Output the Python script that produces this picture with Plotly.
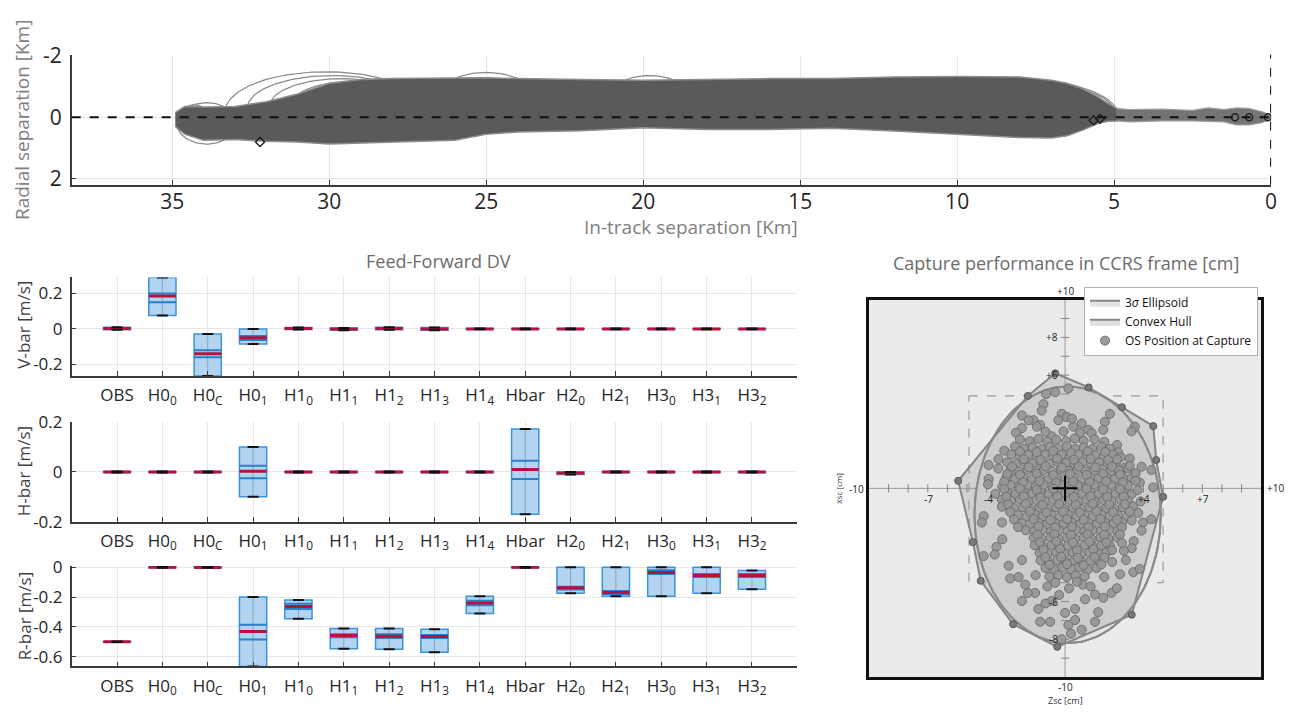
import numpy as np
import plotly.graph_objects as go

W, H = 1301, 717
FONT = "Open Sans"

# ---------------- data: trajectory panel (km) ----------------
band_x   = [34.9, 34.6, 34.0, 33.0, 32.0, 31.0, 30.0, 29.0, 28.0, 27.0, 26.0, 25.0, 24.0, 22.0, 20.0, 18.0, 16.0, 14.0, 12.0, 10.0, 9.0, 8.0, 7.0, 6.5, 6.0, 5.5, 5.2, 4.9]
band_top = [-0.15, -0.35, -0.33, -0.35, -0.5, -0.75, -1.1, -1.22, -1.25, -1.25, -1.27, -1.28, -1.25, -1.22, -1.2, -1.22, -1.25, -1.25, -1.3, -1.32, -1.3, -1.3, -1.2, -1.1, -0.92, -0.65, -0.45, -0.28]
band_bot = [0.3, 0.55, 0.75, 0.72, 0.78, 0.8, 0.87, 0.85, 0.83, 0.78, 0.75, 0.55, 0.48, 0.44, 0.34, 0.4, 0.4, 0.36, 0.45, 0.55, 0.6, 0.66, 0.67, 0.6, 0.42, 0.2, 0.13, 0.12]
tail_x   = [4.9, 4.5, 3.5, 2.5, 2.0, 1.5, 1.1, 0.7, 0.3, 0.0]
tail_top = [-0.28, -0.25, -0.26, -0.22, -0.3, -0.25, -0.3, -0.28, -0.18, -0.05]
tail_bot = [0.12, 0.15, 0.12, 0.12, 0.13, 0.15, 0.25, 0.25, 0.18, 0.05]
ell_cx   = [34.3, 33.9, 30.1, 29.9, 29.6, 29.3, 25.0, 19.8, 8.6, 7.9]
ell_cy   = [0.05, 0.2, -0.2, -0.3, -0.35, -0.4, -0.3, -0.35, -0.1, -0.15]
ell_ax   = [0.5, 0.95, 3.2, 2.7, 2.3, 1.9, 1.8, 1.5, 3.7, 2.9]
ell_ay   = [0.45, 0.67, 1.27, 1.05, 0.9, 0.75, 1.15, 1.0, 1.2, 1.0]
ell_full = [1, 1, 0, 0, 0, 0, 0, 0, 0, 0]
mk_x     = [32.2, 5.65, 5.45, 1.15, 0.7, 0.1]
mk_y     = [0.8, 0.1, 0.05, 0.0, 0.0, 0.0]
top_xticks = [0, 5, 10, 15, 20, 25, 30, 35]
top_yticks = [-2, 0, 2]

# ---------------- data: feed-forward DV box panels (m/s) ----------------
categories = ["OBS", "H0<sub>0</sub>", "H0<sub>C</sub>", "H0<sub>1</sub>", "H1<sub>0</sub>",
              "H1<sub>1</sub>", "H1<sub>2</sub>", "H1<sub>3</sub>", "H1<sub>4</sub>", "Hbar",
              "H2<sub>0</sub>", "H2<sub>1</sub>", "H3<sub>0</sub>", "H3<sub>1</sub>", "H3<sub>2</sub>"]

v_lo  = [-0.005, 0.075, -0.265, -0.085, -0.003, -0.008, -0.005, -0.007, -0.002, -0.002, -0.002, -0.002, -0.002, -0.002, -0.002]
v_hi  = [0.01, 0.29, -0.028, 0.0, 0.008, 0.005, 0.01, 0.008, 0.002, 0.002, 0.002, 0.002, 0.002, 0.002, 0.002]
v_med = [0.003, 0.185, -0.14, -0.05, 0.003, 0.0, 0.002, 0.0, 0.0, 0.0, 0.0, 0.0, 0.0, 0.0, 0.0]
v_blo = [None, 0.15, -0.16, -0.062, None, None, None, None, None, None, None, None, None, None, None]
v_bhi = [None, 0.2, -0.12, -0.04, None, None, None, None, None, None, None, None, None, None, None]

h_lo  = [-0.002, -0.002, -0.002, -0.1, -0.002, -0.002, -0.002, -0.002, -0.002, -0.17, -0.01, -0.002, -0.002, -0.002, -0.002]
h_hi  = [0.002, 0.002, 0.002, 0.1, 0.002, 0.002, 0.002, 0.002, 0.002, 0.173, 0.0, 0.002, 0.002, 0.002, 0.002]
h_med = [0.0, 0.0, 0.0, 0.003, 0.0, 0.0, 0.0, 0.0, 0.0, 0.01, -0.004, 0.0, 0.0, 0.0, 0.0]
h_blo = [None, None, None, -0.025, None, None, None, None, None, -0.028, None, None, None, None, None]
h_bhi = [None, None, None, 0.025, None, None, None, None, None, 0.045, None, None, None, None, None]

r_lo  = [-0.502, -0.003, -0.003, -0.665, -0.345, -0.546, -0.55, -0.57, -0.31, -0.003, -0.175, -0.195, -0.195, -0.175, -0.148]
r_hi  = [-0.498, 0.003, 0.001, -0.2, -0.22, -0.41, -0.41, -0.415, -0.195, 0.003, 0.0, 0.0, 0.0, 0.0, -0.022]
r_med = [-0.5, 0.0, -0.002, -0.43, -0.263, -0.458, -0.463, -0.465, -0.24, 0.0, -0.138, -0.17, -0.035, -0.056, -0.056]
r_blo = [None, None, None, -0.485, -0.28, -0.47, -0.475, -0.475, -0.255, None, -0.15, -0.18, -0.045, -0.065, -0.065]
r_bhi = [None, None, None, -0.385, -0.245, -0.45, -0.45, -0.455, -0.225, None, -0.13, -0.16, -0.02, -0.045, -0.045]

# ---------------- data: capture performance (cm) ----------------
ellipse_c = (0.13, -1.4)
ellipse_r = (4.75, 6.8)
hull_x = [-0.5, 1.2, 2.9, 4.5, 4.65, 5.0, 3.4, -0.4, -2.65, -4.3, -4.7, -5.45, -1.9, -0.5]
hull_y = [6.1, 5.35, 4.3, 3.3, 1.5, -0.45, -6.7, -8.4, -7.2, -4.9, -2.85, 0.4, 4.9, 6.1]
sq_x = [-4.9, 5.0, 5.0, -4.9, -4.9]
sq_y = [4.9, 4.9, -5.0, -5.0, 4.9]
cap_ticks = [-9, -8, -7, -6, -5, -4, -3, -2, -1, 1, 2, 3, 4, 5, 6, 7, 8, 9]
os_points = [
    (-0.5, 5.1), (-0.97, 5.0), (0.17, 5.3), (-1.1, 4.46), (-1.19, 4.12), (-2.2, 3.86), (-1.61, 3.61),
    (-1.27, 3.36), (-0.17, 3.95), (0.08, 3.78), (-0.34, 3.61), (0.85, 3.44), (1.19, 3.1), (2.29, 3.95),
    (2.03, 3.53), (3.56, 3.27), (3.39, 3.02), (0.42, 3.27), (0.76, 2.93), (-0.08, 3.02), (-0.68, 2.76),
    (-1.86, 3.61), (-1.44, 3.27), (-2.2, 3.19), (1.95, 3.1), (1.36, 2.93), (-1.0, 3.0), (0.35, 3.7), (-2.5, 2.95),
    (-2.3, 2.6), (-1.8, 2.5), (-1.35, 2.62), (-0.9, 2.48), (-0.45, 2.58), (0.05, 2.5), (0.5, 2.64), (0.95, 2.52),
    (1.5, 2.6), (2.0, 2.47), (2.65, 2.3),
    (-3.1, 2.0), (-2.55, 2.22), (-2.1, 2.1), (-1.65, 2.18), (-1.2, 2.08), (-0.78, 2.2), (-0.35, 2.12), (0.1, 2.22),
    (0.52, 2.1), (0.95, 2.17), (1.4, 2.08), (1.85, 2.2), (2.3, 2.1), (2.7, 1.92),
    (-3.4, 1.55), (-2.75, 1.8), (-2.3, 1.7), (-1.88, 1.78), (-1.45, 1.68), (-1.02, 1.8), (-0.6, 1.72), (-0.18, 1.78),
    (0.25, 1.7), (0.68, 1.8), (1.1, 1.68), (1.55, 1.76), (1.98, 1.7), (2.42, 1.8), (2.85, 1.65), (3.3, 1.58),
    (-3.9, 1.24), (-2.95, 1.38), (-2.5, 1.3), (-2.08, 1.4), (-1.65, 1.32), (-1.22, 1.38), (-0.8, 1.3), (-0.38, 1.4),
    (0.05, 1.34), (0.48, 1.3), (0.9, 1.4), (1.32, 1.32), (1.75, 1.38), (2.18, 1.3), (2.6, 1.36), (3.05, 1.1), (3.9, 1.15),
    (-3.4, 1.05), (-2.8, 0.95), (-2.35, 0.9), (-1.92, 1.0), (-1.5, 0.92), (-1.08, 0.98), (-0.65, 0.9), (-0.22, 1.0),
    (0.2, 0.92), (0.62, 0.98), (1.05, 0.9), (1.48, 0.96), (1.9, 1.0), (2.32, 0.9), (2.75, 0.95), (3.2, 1.07),
    (3.56, 0.73), (4.4, 0.98),
    (-3.9, 0.5), (-3.0, 0.55), (-2.55, 0.5), (-2.12, 0.58), (-1.7, 0.5), (-1.28, 0.56), (-0.85, 0.48), (-0.42, 0.58),
    (0.0, 0.5), (0.42, 0.55), (0.85, 0.48), (1.28, 0.58), (1.7, 0.5), (2.12, 0.56), (2.55, 0.5), (2.98, 0.58),
    (3.4, 0.56), (3.81, 0.31),
    (-3.93, 0.22), (-3.2, 0.1), (-2.78, 0.18), (-2.35, 0.1), (-1.92, 0.16), (-1.5, 0.08), (-1.08, 0.18), (-0.65, 0.12),
    (-0.22, 0.2), (0.22, 0.1), (0.65, 0.16), (1.08, 0.1), (1.5, 0.2), (1.92, 0.12), (2.35, 0.18), (2.78, 0.1),
    (3.2, 0.15), (4.49, 0.05),
    (-3.56, -0.29), (-2.95, -0.22), (-2.52, -0.3), (-2.1, -0.2), (-1.68, -0.28), (-1.25, -0.22), (-0.82, -0.3),
    (-0.4, -0.2), (0.02, -0.26), (0.45, -0.2), (0.88, -0.3), (1.3, -0.22), (1.72, -0.28), (2.15, -0.2), (2.58, -0.3),
    (3.0, -0.22), (3.4, -0.3),
    (-3.22, -0.6), (-2.75, -0.66), (-2.3, -0.6), (-1.88, -0.7), (-1.45, -0.62), (-1.02, -0.68), (-0.6, -0.6),
    (-0.18, -0.7), (0.25, -0.62), (0.68, -0.68), (1.1, -0.6), (1.52, -0.7), (1.95, -0.62), (2.38, -0.68), (2.8, -0.6),
    (3.22, -0.66), (3.85, -0.7),
    (-3.22, -0.97), (-2.6, -1.05), (-2.15, -1.0), (-1.72, -1.1), (-1.3, -1.02), (-0.88, -1.08), (-0.45, -1.0),
    (-0.02, -1.1), (0.4, -1.02), (0.82, -1.08), (1.25, -1.0), (1.68, -1.1), (2.1, -1.04), (2.52, -1.08), (2.95, -1.0),
    (3.47, -0.97),
    (-4.15, -1.47), (-2.4, -1.42), (-1.98, -1.5), (-1.55, -1.4), (-1.12, -1.48), (-0.7, -1.42), (-0.28, -1.5),
    (0.15, -1.4), (0.58, -1.48), (1.0, -1.42), (1.42, -1.5), (1.85, -1.4), (2.28, -1.46), (2.7, -1.42), (3.15, -1.48),
    (3.73, -1.3),
    (-4.24, -1.81), (-3.22, -1.81), (-2.2, -1.85), (-1.78, -1.9), (-1.35, -1.82), (-0.92, -1.9), (-0.5, -1.84),
    (-0.08, -1.9), (0.35, -1.82), (0.78, -1.88), (1.2, -1.82), (1.62, -1.9), (2.05, -1.84), (2.48, -1.88), (2.9, -1.82),
    (3.98, -1.81), (4.4, -1.64),
    (-2.0, -2.22), (-1.58, -2.28), (-1.15, -2.2), (-0.72, -2.3), (-0.3, -2.22), (0.12, -2.28), (0.55, -2.2),
    (0.98, -2.3), (1.4, -2.22), (1.82, -2.28), (2.25, -2.2), (2.68, -2.26), (3.9, -2.24),
    (-3.2, -2.7), (-1.6, -2.62), (-1.18, -2.68), (-0.75, -2.6), (-0.32, -2.7), (0.1, -2.62), (0.52, -2.68),
    (0.95, -2.6), (1.38, -2.7), (1.8, -2.62), (2.22, -2.68), (2.65, -2.6), (3.5, -2.8),
    (-3.5, -3.1), (-1.55, -3.02), (-1.12, -3.1), (-0.7, -3.0), (-0.28, -3.08), (0.15, -3.02), (0.58, -3.1),
    (1.0, -3.0), (1.42, -3.08), (1.85, -3.02), (2.3, -3.06), (3.4, -3.17),
    (-4.15, -3.59), (-3.59, -3.51), (-1.3, -3.42), (-0.88, -3.5), (-0.45, -3.4), (-0.02, -3.48), (0.4, -3.42),
    (0.82, -3.5), (1.25, -3.4), (1.68, -3.48), (2.1, -3.42), (3.0, -3.3),
    (-2.2, -3.8), (-1.25, -3.82), (-0.82, -3.9), (-0.4, -3.8), (0.02, -3.88), (0.45, -3.8), (0.88, -3.9),
    (1.3, -3.82), (1.72, -3.86), (2.4, -3.9), (3.1, -3.8),
    (-2.88, -4.1), (-1.0, -4.22), (-0.55, -4.3), (-0.12, -4.2), (0.3, -4.28), (0.72, -4.2), (1.15, -4.3),
    (1.6, -4.22), (3.48, -4.44), (3.81, -4.27),
    (-2.8, -4.78), (-2.37, -4.7), (-1.5, -4.6), (-0.8, -4.68), (-0.35, -4.6), (0.1, -4.7), (0.55, -4.62),
    (1.0, -4.66), (2.0, -4.7), (2.8, -4.55),
    (-2.03, -5.1), (-1.53, -5.54), (-2.2, -5.97), (-1.36, -6.39), (-1.27, -7.07), (-0.76, -7.07), (-0.68, -5.97),
    (-0.17, -8.0), (0.17, -7.24), (0.51, -6.98), (0.85, -7.49), (0.51, -6.39), (1.02, -5.88), (1.53, -5.63),
    (1.53, -7.07), (1.69, -6.56), (1.95, -5.8), (2.37, -5.54), (2.64, -5.29), (-0.9, -5.2), (0.2, -5.3),
    (-0.3, -5.65), (0.9, -5.1), (-1.0, -6.1), (0.0, -6.6), (-0.5, -5.0), (0.6, -4.95), (1.3, -5.2), (-1.9, -5.55),
    (0.3, -7.7),
    # dense core, second staggered layer
    (-2.3, 1.95), (-1.45, 1.92), (-0.6, 1.98), (0.3, 1.9), (1.15, 1.96), (2.05, 1.93),
    (-2.1, 1.55), (-1.25, 1.5), (-0.4, 1.57), (0.45, 1.52), (1.3, 1.56), (2.2, 1.5), (2.65, 1.54),
    (-2.7, 1.15), (-1.85, 1.12), (-1.0, 1.17), (-0.15, 1.1), (0.7, 1.16), (1.55, 1.12), (2.4, 1.15), (3.3, 1.2),
    (-2.95, 0.75), (-2.3, 0.72), (-1.45, 0.78), (-0.6, 0.7), (0.25, 0.76), (1.1, 0.72), (1.95, 0.78), (2.8, 0.73), (3.6, 0.8),
    (-3.1, 0.35), (-2.15, 0.32), (-1.3, 0.38), (-0.45, 0.3), (0.4, 0.36), (1.25, 0.33), (2.1, 0.37), (2.95, 0.31), (3.6, 0.4),
    (-3.1, -0.05), (-2.3, -0.02), (-1.45, -0.08), (-0.6, -0.03), (0.25, -0.07), (1.1, -0.02), (1.95, -0.06), (2.8, -0.04), (3.7, -0.1),
    (-3.0, -0.45), (-2.1, -0.42), (-1.25, -0.48), (-0.4, -0.43), (0.45, -0.47), (1.3, -0.42), (2.15, -0.46), (3.0, -0.44),
    (-2.9, -0.85), (-2.0, -0.82), (-1.15, -0.88), (-0.3, -0.83), (0.55, -0.87), (1.4, -0.82), (2.25, -0.86), (3.05, -0.84),
    (-2.8, -1.25), (-1.8, -1.22), (-0.95, -1.28), (-0.1, -1.23), (0.75, -1.27), (1.6, -1.22), (2.45, -1.26), (3.3, -1.24),
    (-2.6, -1.65), (-1.6, -1.62), (-0.75, -1.68), (0.1, -1.63), (0.95, -1.67), (1.8, -1.62), (2.65, -1.66), (3.4, -1.7),
    (-2.4, -2.05), (-1.35, -2.02), (-0.5, -2.08), (0.35, -2.03), (1.2, -2.07), (2.05, -2.02), (2.9, -2.06),
    (-1.4, -2.45), (-0.55, -2.42), (0.3, -2.48), (1.15, -2.43), (2.0, -2.47), (2.8, -2.44),
    (-1.3, -2.85), (-0.45, -2.82), (0.4, -2.88), (1.25, -2.83), (2.1, -2.87), (2.9, -2.9),
    (-1.1, -3.25), (-0.25, -3.22), (0.6, -3.28), (1.45, -3.23), (2.4, -3.27),
    (-1.0, -3.65), (-0.2, -3.62), (0.65, -3.68), (1.5, -3.63), (2.0, -3.67),
    (-0.8, -4.05), (0.1, -4.02), (0.95, -4.08), (1.85, -4.03),
]
os_x = [p[0] for p in os_points]
os_y = [p[1] for p in os_points]

# ---------------- helpers ----------------
def fx(p):
    return p / W

def fy(p):
    return 1 - p / H

def hsegs(xc, yv, half):
    xs, ys = [], []
    for x, y in zip(xc, yv):
        if y is None:
            continue
        xs += [x - half, x + half, None]
        ys += [y, y, None]
    return xs, ys

fig = go.Figure()

# ---------------- top panel ----------------
t_full = np.linspace(0, 2 * np.pi, 90)
t_half = np.linspace(0, np.pi, 60)
for cx, cy, ax, ay, full in zip(ell_cx, ell_cy, ell_ax, ell_ay, ell_full):
    t = t_full if full else t_half
    fig.add_trace(go.Scatter(x=cx + ax * np.cos(t), y=cy - ay * np.sin(t), mode="lines",
                             line=dict(color="#8a8a8a", width=1.2), hoverinfo="skip",
                             showlegend=False, xaxis="x", yaxis="y"))
fig.add_trace(go.Scatter(x=band_x + band_x[::-1], y=band_top + band_bot[::-1], fill="toself",
                         fillcolor="#5a5a5a", line=dict(color="#8c8c8c", width=1.5), mode="lines",
                         showlegend=False, hoverinfo="skip", xaxis="x", yaxis="y"))
fig.add_trace(go.Scatter(x=tail_x + tail_x[::-1], y=tail_top + tail_bot[::-1], fill="toself",
                         fillcolor="#747474", line=dict(color="#9a9a9a", width=1.2), mode="lines",
                         showlegend=False, hoverinfo="skip", xaxis="x", yaxis="y"))
fig.add_trace(go.Scatter(x=mk_x, y=mk_y, mode="markers",
                         marker=dict(symbol=["diamond-open", "diamond-open", "diamond-open", "circle-open", "circle-open", "circle-open"],
                                     size=7, color="#222", line=dict(color="#222", width=1.5)),
                         showlegend=False, hoverinfo="skip", xaxis="x", yaxis="y"))

# ---------------- box panels ----------------
pos = list(range(1, 16))
panels = [("x2", "y2", v_lo, v_hi, v_med, v_blo, v_bhi),
          ("x3", "y3", h_lo, h_hi, h_med, h_blo, h_bhi),
          ("x4", "y4", r_lo, r_hi, r_med, r_blo, r_bhi)]
for xa, ya, lo, hi, med, blo, bhi in panels:
    fig.add_trace(go.Bar(x=pos, y=[h - l for l, h in zip(lo, hi)], base=lo, width=0.6,
                         marker=dict(color="rgba(165,205,238,0.85)", line=dict(color="#3c92d8", width=1.5)),
                         showlegend=False, hoverinfo="skip", xaxis=xa, yaxis=ya))
    vx, vy = [], []
    for p, l, h in zip(pos, lo, hi):
        vx += [p, p, None]
        vy += [l, h, None]
    fig.add_trace(go.Scatter(x=vx, y=vy, mode="lines", line=dict(color="rgba(90,110,130,0.45)", width=1),
                             showlegend=False, hoverinfo="skip", xaxis=xa, yaxis=ya))
    for band in (blo, bhi):
        bx, by = hsegs(pos, band, 0.3)
        fig.add_trace(go.Scatter(x=bx, y=by, mode="lines", line=dict(color="#2a7fc9", width=2),
                                 showlegend=False, hoverinfo="skip", xaxis=xa, yaxis=ya))
    mx, my = hsegs(pos, med, 0.3)
    fig.add_trace(go.Scatter(x=mx, y=my, mode="lines", line=dict(color="#b3133d", width=3),
                             showlegend=False, hoverinfo="skip", xaxis=xa, yaxis=ya))
    for cap in (lo, hi):
        cx_, cy_ = hsegs(pos, cap, 0.12)
        fig.add_trace(go.Scatter(x=cx_, y=cy_, mode="lines", line=dict(color="#111", width=2),
                                 showlegend=False, hoverinfo="skip", xaxis=xa, yaxis=ya))

# ---------------- capture panel ----------------
te = np.linspace(0, 2 * np.pi, 160)
fig.add_trace(go.Scatter(x=sq_x, y=sq_y, mode="lines", line=dict(color="#9a9a9a", width=1.2, dash="dash"),
                         showlegend=False, hoverinfo="skip", xaxis="x5", yaxis="y5"))
fig.add_trace(go.Scatter(x=ellipse_c[0] + ellipse_r[0] * np.cos(te), y=ellipse_c[1] + ellipse_r[1] * np.sin(te),
                         mode="lines", fill="toself", fillcolor="#e4e4e4",
                         line=dict(color="#8a8a8a", width=2), name="3<i>σ</i> Ellipsoid",
                         hoverinfo="skip", xaxis="x5", yaxis="y5"))
fig.add_trace(go.Scatter(x=hull_x, y=hull_y, mode="lines", fill="toself", fillcolor="rgba(150,150,150,0.3)",
                         line=dict(color="#858585", width=2), name="Convex Hull",
                         hoverinfo="skip", xaxis="x5", yaxis="y5"))
fig.add_trace(go.Scatter(x=ellipse_c[0] + ellipse_r[0] * np.cos(te), y=ellipse_c[1] + ellipse_r[1] * np.sin(te),
                         mode="lines", line=dict(color="#8a8a8a", width=2),
                         showlegend=False, hoverinfo="skip", xaxis="x5", yaxis="y5"))
fig.add_trace(go.Scatter(x=cap_ticks, y=[0] * len(cap_ticks), mode="markers",
                         marker=dict(symbol="line-ns-open", size=6, color="#888", line=dict(color="#888", width=1)),
                         showlegend=False, hoverinfo="skip", xaxis="x5", yaxis="y5"))
fig.add_trace(go.Scatter(x=[0] * len(cap_ticks), y=cap_ticks, mode="markers",
                         marker=dict(symbol="line-ew-open", size=6, color="#888", line=dict(color="#888", width=1)),
                         showlegend=False, hoverinfo="skip", xaxis="x5", yaxis="y5"))
fig.add_trace(go.Scatter(x=os_x, y=os_y, mode="markers", name="OS Position at Capture",
                         marker=dict(size=9, color="rgba(150,150,150,0.95)", line=dict(color="#6f6f6f", width=1)),
                         hoverinfo="skip", xaxis="x5", yaxis="y5"))
fig.add_trace(go.Scatter(x=hull_x[:-1], y=hull_y[:-1], mode="markers",
                         marker=dict(size=7, color="#7a7a7a", line=dict(color="#555", width=1)),
                         showlegend=False, hoverinfo="skip", xaxis="x5", yaxis="y5"))
fig.add_trace(go.Scatter(x=[0], y=[0], mode="markers",
                         marker=dict(symbol="cross-thin-open", size=18, color="#000", line=dict(color="#000", width=2)),
                         showlegend=False, hoverinfo="skip", xaxis="x5", yaxis="y5"))

# ---------------- layout ----------------
tickfont = dict(family=FONT, size=17, color="#262626")
axis_common = dict(showline=True, linecolor="#3a3a3a", linewidth=1.5, ticks="inside", ticklen=5,
                   tickcolor="#3a3a3a", gridcolor="#e6e6e6", zeroline=False, mirror=False)

layout = dict(
    width=W, height=H, autosize=False, margin=dict(l=0, r=0, t=0, b=0),
    paper_bgcolor="white", plot_bgcolor="white", font=dict(family=FONT),
    barmode="overlay",
    xaxis=dict(domain=[fx(72), fx(1277)], range=[38.2, 0], tickvals=top_xticks,
               ticktext=[str(v) for v in top_xticks], anchor="y",
               tickfont=dict(family=FONT, size=21, color="#262626"), ticklabelstandoff=-3, **axis_common),
    yaxis=dict(domain=[fy(177), fy(42)], range=[2.19, -2.03], tickvals=top_yticks,
               ticktext=["-2", "0", "2"], anchor="x",
               tickfont=dict(family=FONT, size=21, color="#262626"), ticklabelstandoff=4, **axis_common),
    legend=dict(x=fx(1089), y=fy(283), xanchor="left", yanchor="top", bgcolor="white",
                bordercolor="#b0b0b0", borderwidth=1, font=dict(family=FONT, size=12, color="#111"),
                tracegroupgap=0, itemwidth=30),
)
box_dom = {"2": (375, 273, [-0.265, 0.29], [-0.2, 0, 0.2], ["-0.2", "0", "0.2"]),
           "3": (526, 423, [-0.2, 0.2], [-0.2, 0, 0.2], ["-0.2", "0", "0.2"]),
           "4": (676, 572, [-0.665, 0.008], [-0.6, -0.4, -0.2, 0], ["-0.6", "-0.4", "-0.2", "0"])}
for k, (b, t, rng, tv, tt) in box_dom.items():
    layout["xaxis" + k] = dict(domain=[fx(72), fx(801)], range=[0, 16], tickvals=pos, ticktext=categories,
                               anchor="y" + k, tickfont=tickfont, ticklabelstandoff=3, **axis_common)
    layout["yaxis" + k] = dict(domain=[fy(b), fy(t)], range=rng, tickvals=tv, ticktext=tt,
                               anchor="x" + k, tickfont=tickfont, ticklabelstandoff=4, **axis_common)
layout["xaxis5"] = dict(domain=[fx(873), fx(1267)], range=[-10, 10], anchor="y5", showgrid=False,
                        zeroline=False, showticklabels=False, showline=True, mirror=True,
                        linewidth=3, linecolor="#111", ticks="")
layout["yaxis5"] = dict(domain=[fy(687), fy(296)], range=[-10, 10], anchor="x5", showgrid=False,
                        zeroline=False, showticklabels=False, showline=True, mirror=True,
                        linewidth=3, linecolor="#111", ticks="")
fig.update_layout(**layout)

# shapes: reference lines and capture background
fig.add_shape(type="rect", xref="x5", yref="y5", x0=-10, x1=10, y0=-10, y1=10,
              fillcolor="#ebebeb", line=dict(width=0), layer="below")
fig.add_shape(type="line", xref="x5", yref="y5", x0=-10, x1=10, y0=0, y1=0,
              line=dict(color="#9a9a9a", width=1), layer="below")
fig.add_shape(type="line", xref="x5", yref="y5", x0=0, x1=0, y0=-10, y1=10,
              line=dict(color="#9a9a9a", width=1), layer="below")
fig.add_shape(type="line", xref="x domain", yref="y", x0=0, x1=1, y0=0, y1=0,
              line=dict(color="#111", width=2, dash="dash"))
fig.add_shape(type="line", xref="x", yref="y domain", x0=0, x1=0, y0=0, y1=1,
              line=dict(color="#111", width=2, dash="dash"))

# ---------------- annotations ----------------
def ann(text, x, y, size, color, angle=0, xref="paper", yref="paper"):
    fig.add_annotation(text=text, x=x, y=y, xref=xref, yref=yref, showarrow=False, textangle=angle,
                       font=dict(family=FONT, size=size, color=color), xanchor="center", yanchor="middle")

ann("Radial separation [Km]", fx(22), fy(110), 19, "#808080", -90)
ann("In-track separation [Km]", fx(694), fy(221), 19, "#808080")
ann("Feed-Forward DV", fx(441), fy(256), 18, "#6b6b6b")
ann("Capture performance in CCRS frame [cm]", fx(1071), fy(258), 18, "#6b6b6b")
ann("V-bar [m/s]", fx(24), fy(322), 17, "#404040", -90)
ann("H-bar [m/s]", fx(24), fy(474), 17, "#404040", -90)
ann("R-bar [m/s]", fx(24), fy(624), 17, "#404040", -90)

cap_labels = [("-7", -6.95, -0.55), ("-4", -3.93, -0.55), ("+4", 4.03, -0.55), ("+7", 7.03, -0.55),
              ("+8", -0.65, 8.0), ("+6", -0.65, 6.0), ("-6", -0.6, -6.0), ("-8", -0.6, -8.0)]
for txt, lx, ly in cap_labels:
    ann(txt, lx, ly, 10, "#222", 0, "x5", "y5")
cap_edge_labels = [("+10", 1070, 287), ("-10", 1070, 697), ("-10", 860, 492), ("+10", 1281, 491)]
for txt, px_, py_ in cap_edge_labels:
    ann(txt, fx(px_), fy(py_), 10, "#222")
ann("Xsc [cm]", fx(843), fy(492), 8, "#333", -90)
ann("Zsc [cm]", fx(1070), fy(711), 9, "#333")

fig.write_html("out.html")
